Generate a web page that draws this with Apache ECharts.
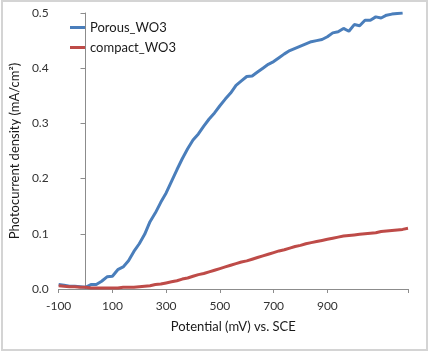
<!DOCTYPE html>
<html>
<head>
<meta charset="utf-8">
<script src="https://cdn.jsdelivr.net/npm/echarts@6/dist/echarts.min.js"></script>
<style>
html,body{margin:0;padding:0;background:#fff;}
#c{width:433px;height:354px;}
</style>
</head>
<body>
<div id="c"></div>
<script>
// Potential (mV vs. SCE)
var potentials = [-100,-80,-60,-40,-20,0,20,40,60,80,100,120,140,160,180,200,220,240,260,280,300,320,340,360,380,400,420,440,460,480,500,520,540,560,580,600,620,640,660,680,700,720,740,760,780,800,820,840,860,880,900,920,940,960,980,1000,1020,1040,1060,1080,1100,1120,1140,1160,1180,1200];
// Photocurrent density (mA/cm2)
var porousWO3 = [0.008,0.007,0.005,0.005,0.004,0.003,0.008,0.008,0.014,0.022,0.023,0.035,0.040,0.051,0.068,0.082,0.099,0.122,0.138,0.157,0.174,0.195,0.216,0.236,0.254,0.270,0.281,0.295,0.308,0.319,0.332,0.344,0.355,0.369,0.377,0.385,0.386,0.393,0.400,0.407,0.412,0.419,0.426,0.432,0.436,0.440,0.444,0.448,0.450,0.452,0.457,0.464,0.466,0.472,0.467,0.479,0.477,0.487,0.487,0.493,0.491,0.496,0.498,0.499,0.500,null];
var compactWO3 = [0.006,0.005,0.004,0.004,0.003,0.003,0.002,0.002,0.002,0.002,0.002,0.002,0.003,0.003,0.003,0.004,0.005,0.006,0.008,0.009,0.011,0.013,0.015,0.018,0.020,0.023,0.026,0.028,0.031,0.034,0.037,0.040,0.043,0.046,0.049,0.051,0.054,0.057,0.060,0.063,0.066,0.069,0.071,0.074,0.077,0.079,0.082,0.084,0.086,0.088,0.090,0.092,0.094,0.096,0.097,0.098,0.099,0.100,0.101,0.102,0.104,0.105,0.106,0.107,0.108,0.110];
var seriesNames = ['Porous_WO3','compact_WO3'];
var xTickLabels = [-100,100,300,500,700,900,1100];
var xTicks = [-100,100,300,500,700,900,1100,1200];
var yTickLabels = [0,0.1,0.2,0.3,0.4,0.5];

function pairs(vals){ return potentials.map(function(p,i){ return [p, vals[i]]; }); }

var font = 'Lato, "Liberation Sans", sans-serif';
var chart = echarts.init(document.getElementById('c'), null, {renderer:'canvas'});
chart.setOption({
  animation:false,
  backgroundColor:'#fff',
  graphic:[{type:'rect',shape:{x:2,y:1,width:425,height:349},style:{fill:'none',stroke:'#d4d4d4',lineWidth:2},silent:true}],
  grid:{left:31,right:25,top:13,bottom:65,containLabel:false},
  legend:{
    orient:'vertical',left:70,top:21,padding:0,itemWidth:15,itemHeight:3,itemGap:7,icon:'rect',
    textStyle:{fontFamily:font,fontSize:13,color:'#1a1a1a'},
    data:seriesNames
  },
  xAxis:{
    type:'value',min:-100,max:1200,
    name:'Potential (mV) vs. SCE',nameLocation:'middle',nameGap:31,
    nameTextStyle:{fontFamily:font,fontSize:13,color:'#1a1a1a'},
    axisLine:{onZero:true,lineStyle:{color:'#8c8c8c',width:1}},
    axisTick:{show:true,length:4,lineStyle:{color:'#8c8c8c'},customValues:xTicks},
    axisLabel:{fontFamily:font,fontSize:12,color:'#333',margin:11,customValues:xTickLabels,showMinLabel:true,showMaxLabel:false},
    splitLine:{show:false}
  },
  yAxis:{
    type:'value',min:0,max:0.5,interval:0.1,
    name:'Photocurrent density (mA/cm²)',nameLocation:'middle',nameGap:36,
    nameTextStyle:{fontFamily:font,fontSize:13,color:'#1a1a1a'},
    axisLine:{show:true,onZero:true,lineStyle:{color:'#8c8c8c',width:1}},
    axisTick:{show:true,length:5,lineStyle:{color:'#8c8c8c'}},
    axisLabel:{fontFamily:font,fontSize:12,color:'#333',margin:10,customValues:yTickLabels,formatter:function(v){return v.toFixed(1);}},
    splitLine:{show:false}
  },
  series:[
    {name:seriesNames[0],type:'line',data:pairs(porousWO3),symbol:'none',smooth:false,lineStyle:{color:'#4A7EBB',width:3},itemStyle:{color:'#4A7EBB'},z:3},
    {name:seriesNames[1],type:'line',data:pairs(compactWO3),symbol:'none',smooth:false,lineStyle:{color:'#BE4B48',width:3},itemStyle:{color:'#BE4B48'},z:4}
  ]
});
</script>
</body>
</html>
